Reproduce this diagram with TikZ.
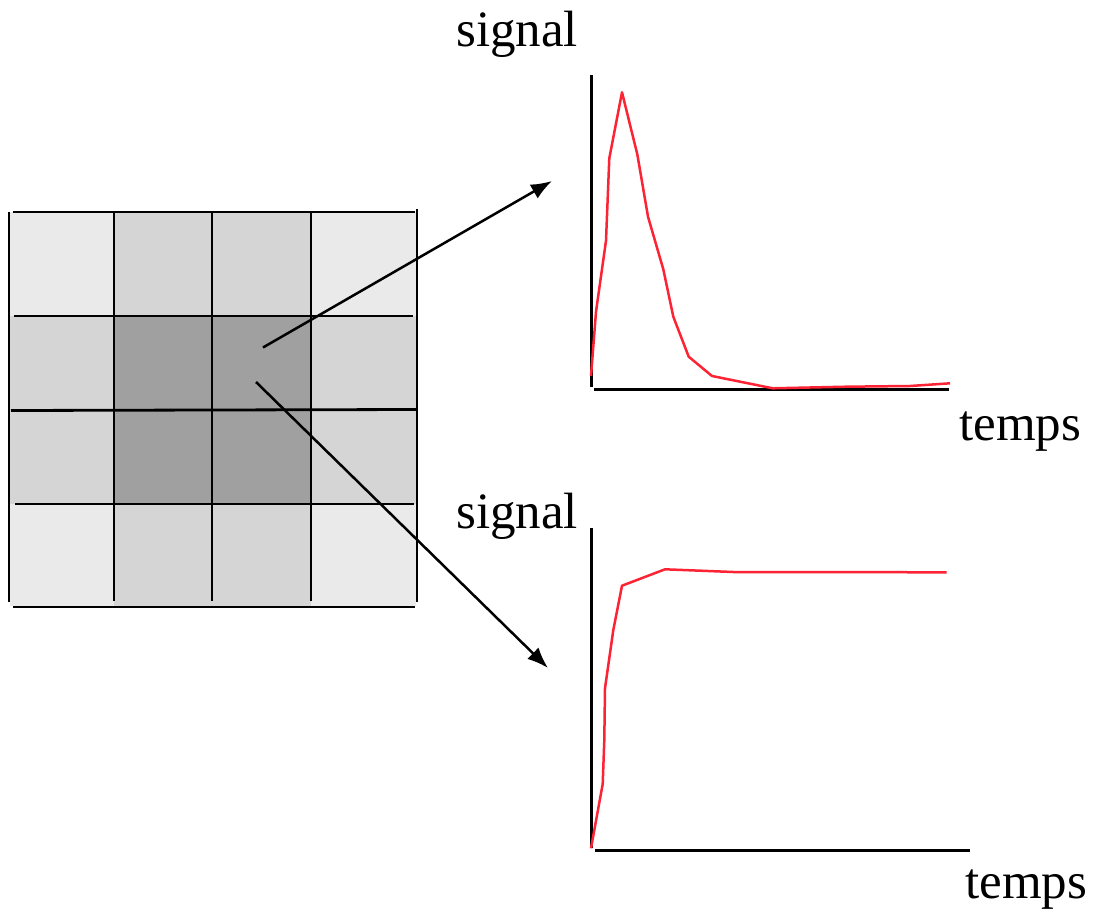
\documentclass[tikz,border=0pt]{standalone}
\usepackage{fontspec}
\setmainfont{Liberation Serif}
\usetikzlibrary{arrows.meta}
\definecolor{celllight}{HTML}{EAEAEA}
\definecolor{cellmid}{HTML}{D5D5D5}
\definecolor{celldark}{HTML}{A0A0A0}
\definecolor{curvered}{RGB}{252,36,52}
\tikzset{
  gridline/.style={line width=2.8pt, black},
  axisline/.style={line width=3pt, black},
  curve/.style={line width=2.5pt, curvered, line join=round},
  pointer/.style={line width=2.5pt, black, -{Latex[length=21pt,width=16pt]}},
  lbl/.style={anchor=base west, inner sep=0pt, font=\fontsize{51}{51}\selectfont}
}
\begin{document}
\begin{tikzpicture}[x=1pt,y=-1pt]
\useasboundingbox (0,0) rectangle (1093,910);
% cells
\fill[celllight] (10,212) rectangle (114,316);
\fill[cellmid] (114,212) rectangle (311,316);
\fill[celllight] (311,212) rectangle (416,316);
\fill[cellmid] (10,316) rectangle (114,504);
\fill[celldark] (114,316) rectangle (311,504);
\fill[cellmid] (311,316) rectangle (416,504);
\fill[celllight] (10,504) rectangle (114,606);
\fill[cellmid] (114,504) rectangle (311,606);
\fill[celllight] (311,504) rectangle (416,606);
% grid lines
\draw[gridline] (13,212) -- (415,212);
\draw[gridline] (14,316) -- (413,316);
\draw[gridline] (11,410.5) -- (416,409.5);
\draw[gridline] (15,504) -- (414,504);
\draw[gridline] (13,607) -- (415,607);
\draw[gridline] (9,212) -- (9,602);
\draw[gridline] (114,212) -- (114,601);
\draw[gridline] (212,212) -- (212,601);
\draw[gridline] (311,212) -- (311,601);
\draw[gridline] (417,209) -- (417,602);
% arrows
\coordinate (s1) at (263,347.5);
\coordinate (e1) at (552,181);
\coordinate (s2) at (256,382);
\coordinate (e2) at (548,668);
\draw[pointer] (s1) -- (e1);
\draw[pointer] (s2) -- (e2);
% top plot
\draw[axisline] (591,75) -- (591,387);
\draw[axisline] (594,389) -- (949,389);
\draw[curve] (591,376) -- (596,311.7) -- (606,240.7) -- (609.3,158.3) -- (622,92.3)
  -- (637.3,154.3) -- (648,216.7) -- (663.3,269.3) -- (673.3,316.7) -- (688.7,356.7)
  -- (712,376) -- (772.7,388.3) -- (846.7,386.7) -- (910,386) -- (950,383.3);
% bottom plot
\draw[axisline] (591,528) -- (591,848);
\draw[axisline] (595,850) -- (970,850);
\draw[curve] (591,848.3) -- (602.7,784) -- (604.3,740) -- (605,688.3) -- (613.3,630)
  -- (622,585.7) -- (665,569.3) -- (733.3,572) -- (946.7,572.3);
% labels
\node[lbl] (sig1) at (456,46.5) {signal};
\node[lbl] (tmp1) at (959,440) {temps};
\node[lbl] (sig2) at (456,528) {signal};
\node[lbl] (tmp2) at (965,898) {temps};
\end{tikzpicture}
\end{document}
